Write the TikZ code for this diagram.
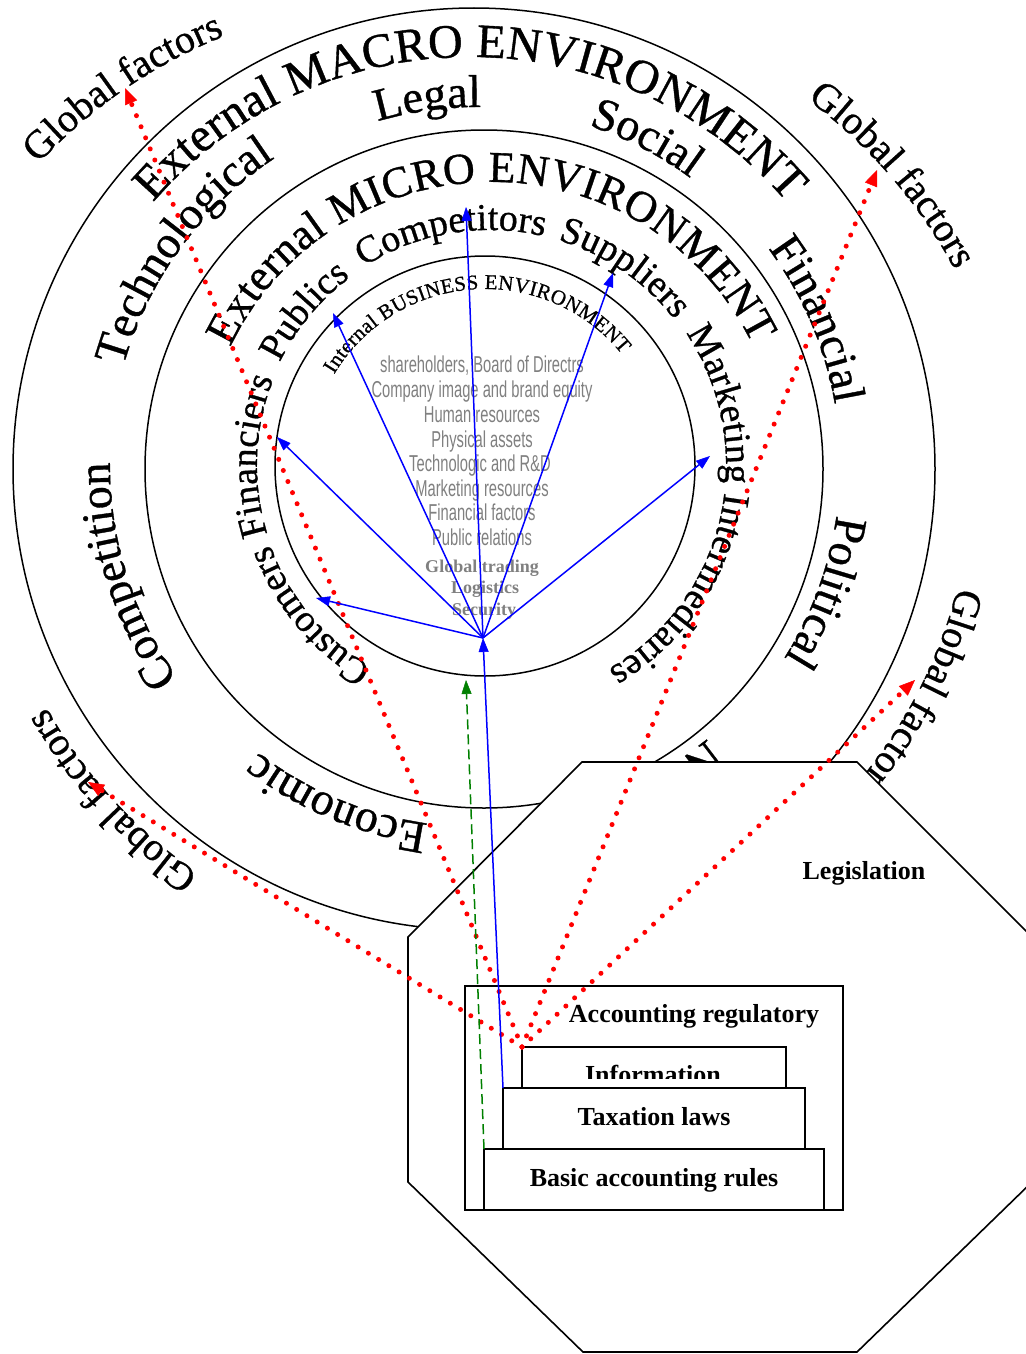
\documentclass[tikz,border=0pt]{standalone}
\usepackage{fontspec}
\setmainfont{Liberation Serif}
\newfontfamily\ringfont[FakeBold=0.8]{Liberation Serif}
\newfontfamily\graysans[FakeStretch=0.64]{Liberation Sans}
\usetikzlibrary{arrows.meta,decorations.text}
\definecolor{ringgray}{RGB}{128,128,128}
\definecolor{arrred}{RGB}{255,0,0}
\definecolor{arrblue}{RGB}{0,0,255}
\definecolor{arrgreen}{RGB}{0,128,0}
\newcommand{\fsz}[1]{\fontsize{#1}{#1}\selectfont}
% #1,#2 centre; #3 radius; #4 start angle; #5 end angle; #6 alignment; #7 text
\newcommand{\ringtext}[7]{%
  \path[decorate,decoration={text along path,text={#7},text align={#6}}]
    ([shift={(#4:#3pt)}]#1,#2) arc[start angle=#4,end angle=#5,radius=#3pt];}
\begin{document}
\begin{tikzpicture}[x=1pt,y=1pt,
  ring/.style={draw=black,line width=1.5pt},
  box/.style={draw=black,line width=2pt,fill=white,inner sep=0pt,outer sep=0pt},
  boxlabel/.style={font=\bfseries\fsz{26},inner sep=0pt,anchor=base},
  insidesans/.style={font=\graysans\fsz{23},text=ringgray,inner sep=0pt,anchor=base},
  insideserif/.style={font=\bfseries\fsz{18},text=ringgray,inner sep=0pt,anchor=base},
  reddots/.style={draw=arrred,line width=5pt,line cap=round,dash pattern=on 0pt off 12pt,
     -{Triangle[length=16pt,width=13pt,line width=0.5pt]}},
  bluearrow/.style={draw=arrblue,line width=1.5pt,
     -{Triangle[length=14pt,width=10pt,line width=0.5pt]}},
  greenarrow/.style={draw=arrgreen,line width=1.5pt,dash pattern=on 10pt off 5pt,
     -{Triangle[length=14pt,width=10pt,line width=0.5pt]}},
]
\useasboundingbox (0,0) rectangle (1025,-1354);
\fill[white] (0,0) rectangle (1025,-1354);

% circles
\draw[ring] (474,-469) circle[radius=461pt];
\draw[ring] (484,-469) circle[radius=339pt];
\draw[ring] (485,-466) circle[radius=210pt];

% outer ring texts
\ringtext{470}{-475}{418}{139.3}{40.7}{fit to path}{|\ringfont\fsz{48}|External MACRO ENVIRONMENT}
\ringtext{478}{-465}{368}{189}{99}{center}{|\ringfont\fsz{46}|Technological}
\ringtext{478}{-465}{358}{142.9}{52.9}{center}{|\ringfont\fsz{46}|Legal}
\ringtext{478}{-465}{357}{107.7}{17.7}{center}{|\ringfont\fsz{46}|Social}
\ringtext{478}{-465}{362}{68.2}{-21.8}{center}{|\ringfont\fsz{46}|Financial}
\ringtext{478}{-465}{362}{24.9}{-65.1}{center}{|\ringfont\fsz{46}|Political}
\ringtext{478}{-465}{362}{-67.7}{-157.7}{center}{|\ringfont\fsz{46}|Economic}
\ringtext{478}{-465}{368}{-117.5}{-207.5}{center}{|\ringfont\fsz{46}|Competition}
\ringtext{478}{-465}{357}{-50}{-90}{left}{|\ringfont\fsz{46}|N}

% middle ring texts
\ringtext{492}{-472}{290}{154.5}{26.1}{fit to path}{|\ringfont\fsz{44}|External MICRO ENVIRONMENT}
\ringtext{490}{-465}{234}{210.3}{70.3}{center}{|\ringfont\fsz{38}|Publics}
\ringtext{490}{-465}{235}{169.6}{29.6}{center}{|\ringfont\fsz{38}|Competitors}
\ringtext{490}{-465}{235}{125.7}{-14.3}{center}{|\ringfont\fsz{38}|Suppliers}
\ringtext{490}{-465}{236}{57}{-83}{center}{|\ringfont\fsz{38}|Marketing Intermediaries}
\ringtext{490}{-465}{234}{-70.2}{-210.2}{center}{|\ringfont\fsz{38}|Customers}
\ringtext{490}{-465}{233}{247.8}{107.8}{center}{|\ringfont\fsz{38}|Financiers}

% inner ring text
\ringtext{485}{-465}{176}{149}{39}{fit to path}{|\ringfont\fsz{21}|Internal BUSINESS ENVIRONMENT}

% global factors
\ringtext{416}{-514}{515}{169.5}{79.5}{center}{|\ringfont\fsz{40}|Global factors}
\ringtext{502}{-513}{514}{85.9}{-4.1}{center}{|\ringfont\fsz{40}|Global factors}
\ringtext{478}{-465}{495}{-14.3}{-70}{left}{|\ringfont\fsz{40}|Global factors}
\ringtext{478}{-465}{495}{-92.5}{-182.5}{center}{|\ringfont\fsz{40}|Global factors}

% internal resources
\node[insidesans]  (ir1)  at (482,-372) {shareholders, Board of Directrs};
\node[insidesans]  (ir2)  at (482,-397) {Company image and brand equity};
\node[insidesans]  (ir3)  at (482,-422) {Human resources};
\node[insidesans]  (ir4)  at (482,-447) {Physical assets};
\node[insidesans]  (ir5)  at (480,-471) {Technologic and R\&D};
\node[insidesans]  (ir6)  at (482,-496) {Marketing resources};
\node[insidesans]  (ir7)  at (482,-520) {Financial factors};
\node[insidesans]  (ir8)  at (482,-545) {Public relations};
\node[insideserif] (ir9)  at (482,-572) {Global trading};
\node[insideserif] (ir10) at (485,-593) {Logistics};
\node[insideserif] (ir11) at (484,-615) {Security};

% octagon (legislation)
\filldraw[fill=white,draw=black,line width=1.6pt]
  (582,-762) -- (857,-762) -- (1032,-937) -- (1032,-1182) -- (857,-1352)
  -- (583,-1352) -- (408,-1182) -- (408,-937) -- cycle;
\node[boxlabel] (legis) at (864,-879) {Legislation};

% accounting boxes
\node[draw=black,line width=2pt,inner sep=0pt,outer sep=0pt,minimum width=378pt,minimum height=224pt]
  (reg) at (654,-1098) {};
\node[boxlabel] (reglabel) at (694,-1022) {Accounting regulatory};
\node[box,minimum width=264pt,minimum height=48pt] (info) at (654,-1071) {};
\begin{scope}
  \clip (522,-1040) rectangle (786,-1078);
  \node[boxlabel] (infolabel) at (653,-1083) {Information};
\end{scope}
\node[box,minimum width=302pt,minimum height=61pt] (tax) at (654,-1118.5) {};
\node[boxlabel] (taxlabel) at (654,-1125) {Taxation laws};
\node[box,minimum width=340pt,minimum height=61pt] (basic) at (654,-1179.5) {};
\node[boxlabel] (basiclabel) at (654,-1186) {Basic accounting rules};

% arrow end points
\coordinate (hub) at (483,-638);
\coordinate (bFin) at (277,-437);
\coordinate (bCus) at (316,-598);
\coordinate (bPub) at (333,-313);
\coordinate (bCom) at (466,-207);
\coordinate (bSup) at (613,-273);
\coordinate (bMar) at (710,-456);
\coordinate (rTL) at (125,-88);
\coordinate (rTR) at (877,-170);
\coordinate (rR) at (915,-680);
\coordinate (rLL) at (88,-782);
\coordinate (gTip) at (466,-680);

% red dotted arrows
\draw[reddots] (info.north west) -- (rTL);
\draw[reddots] (info.north west) -- (rTR);
\draw[reddots] (info.north west) -- (rR);
\draw[reddots] (info.north west) -- (rLL);

% blue arrows
\draw[bluearrow] (hub) -- (bFin);
\draw[bluearrow] (hub) -- (bCus);
\draw[bluearrow] (hub) -- (bPub);
\draw[bluearrow] (hub) -- (bCom);
\draw[bluearrow] (hub) -- (bSup);
\draw[bluearrow] (hub) -- (bMar);
\draw[bluearrow] (tax.north west) -- (hub);

% green dashed arrow
\draw[greenarrow] (basic.north west) -- (gTip);
\end{tikzpicture}
\end{document}
